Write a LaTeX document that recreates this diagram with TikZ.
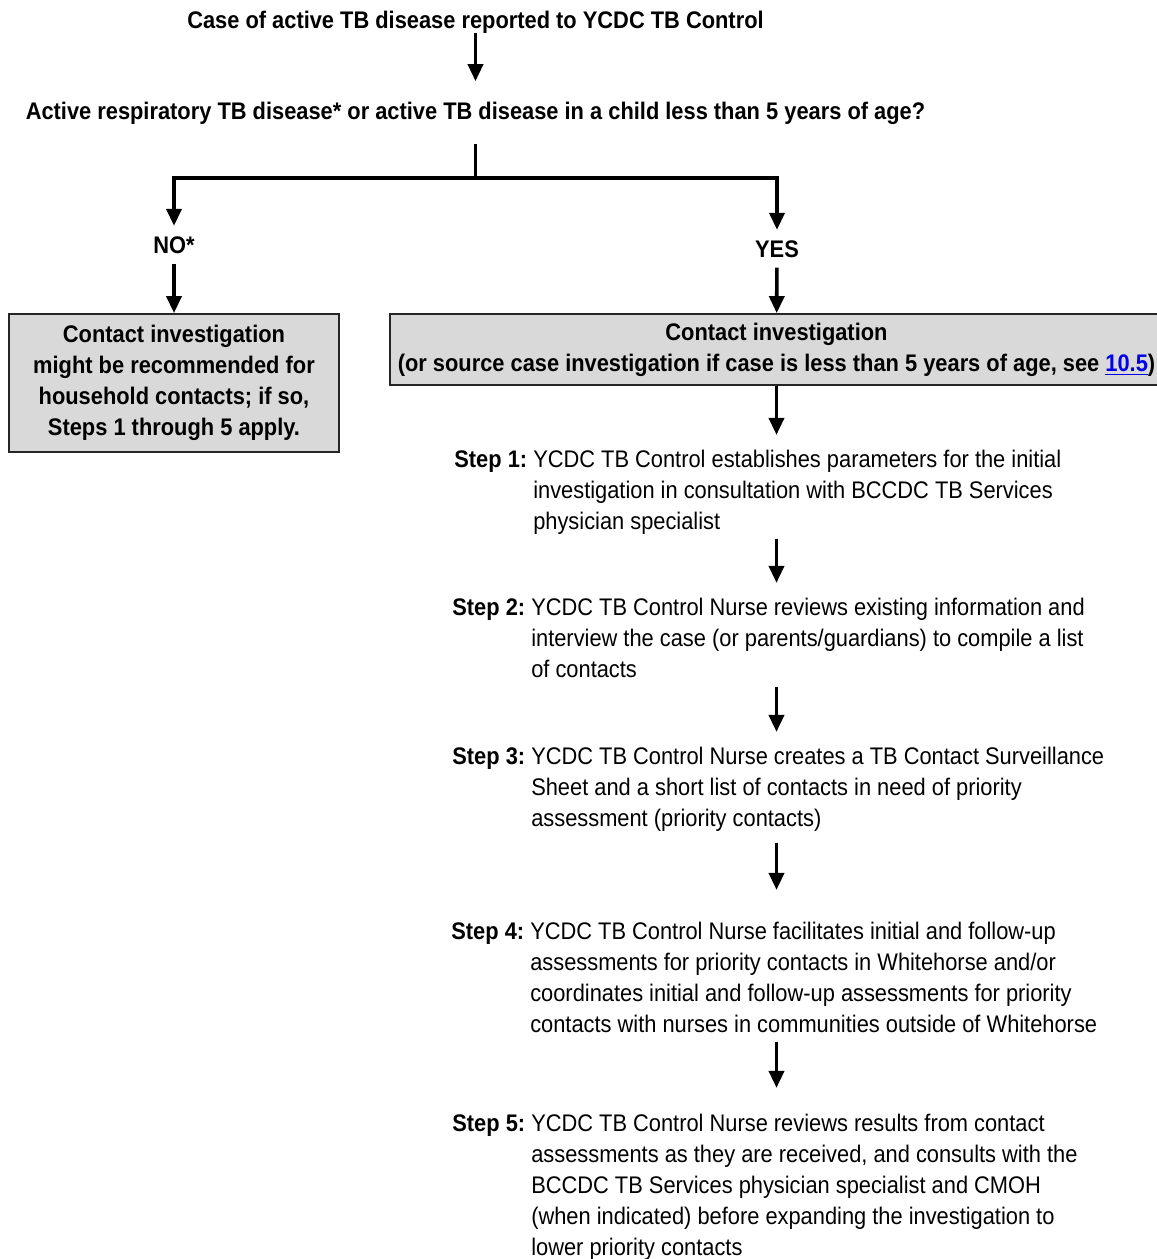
\documentclass[tikz,border=0pt]{standalone}
\usepackage{fontspec}
\setmainfont[FakeStretch=0.91]{Liberation Sans}
\usetikzlibrary{arrows.meta}
\definecolor{boxgray}{RGB}{217,217,217}
\definecolor{linkblue}{RGB}{0,0,235}

\begin{document}
\begin{tikzpicture}[x=0.5pt,y=-0.5pt,
    every node/.style={font=\fontsize{12}{15.5}\selectfont, inner sep=0pt},
    boldtxt/.style={font=\fontsize{12}{15.5}\selectfont\bfseries},
    arr/.style={line width=1.8pt, -{Triangle[width=7.5pt,length=8.5pt]}},
    conn/.style={line width=1.8pt, line join=miter},
    greybox/.style={draw=black!85, line width=0.9pt, fill=boxgray,
        font=\fontsize{12}{15.5}\selectfont\bfseries, align=center},
    steptext/.style={anchor=base west}]
    \useasboundingbox[fill=white] (0,0) rectangle (1157,1259);

    % question and branch
    \node[boldtxt, anchor=base] (title) at (475.5,28) {Case of active TB disease reported to YCDC TB Control};
    \node[boldtxt, anchor=base, inner ysep=10pt] (quest) at (475.5,119) {Active respiratory TB disease* or active TB disease in a child less than 5 years of age?};
    \coordinate (fork) at (475.5,178);
    \node[boldtxt, anchor=base, inner ysep=5pt] (no) at (174,253) {NO*};
    \node[boldtxt, anchor=base, inner ysep=5pt] (yes) at (777,257) {YES};

    \draw[arr] (title.south) -- (quest.north);
    \draw[conn] (quest.south) -- (fork);
    \draw[arr] (fork) -| (no.north);
    \draw[arr] (fork) -| (yes.north);

    % boxes
    \node[greybox, minimum width=165pt, minimum height=69pt] (nobox) at (174,383)
        {Contact investigation\\might be recommended for\\household contacts; if so,\\Steps 1 through 5 apply.};
    \node[greybox, minimum width=386.5pt, minimum height=35.5pt] (ycase) at (776.5,349.5)
        {Contact investigation\\(or source case investigation if case is less than 5 years of age, see \textcolor{linkblue}{\underline{10.5}})};

    \draw[arr] (no) -- (nobox);
    \draw[arr] (yes) -- (ycase);

    % steps
    \node[steptext] (step1) at (454,467) {\begin{tabular}[t]{@{}l@{\ }l@{}}
        \textbf{Step 1:} & YCDC TB Control establishes parameters for the initial\\
        & investigation in consultation with BCCDC TB Services\\
        & physician specialist\end{tabular}};
    \node[steptext] (step2) at (452,615) {\begin{tabular}[t]{@{}l@{\ }l@{}}
        \textbf{Step 2:} & YCDC TB Control Nurse reviews existing information and\\
        & interview the case (or parents/guardians) to compile a list\\
        & of contacts\end{tabular}};
    \node[steptext] (step3) at (452,764) {\begin{tabular}[t]{@{}l@{\ }l@{}}
        \textbf{Step 3:} & YCDC TB Control Nurse creates a TB Contact Surveillance\\
        & Sheet and a short list of contacts in need of priority\\
        & assessment (priority contacts)\end{tabular}};
    \node[steptext] (step4) at (451,939) {\begin{tabular}[t]{@{}l@{\ }l@{}}
        \textbf{Step 4:} & YCDC TB Control Nurse facilitates initial and follow-up\\
        & assessments for priority contacts in Whitehorse and/or\\
        & coordinates initial and follow-up assessments for priority\\
        & contacts with nurses in communities outside of Whitehorse\end{tabular}};
    \node[steptext] (step5) at (452,1131) {\begin{tabular}[t]{@{}l@{\ }l@{}}
        \textbf{Step 5:} & YCDC TB Control Nurse reviews results from contact\\
        & assessments as they are received, and consults with the\\
        & BCCDC TB Services physician specialist and CMOH\\
        & (when indicated) before expanding the investigation to\\
        & lower priority contacts\end{tabular}};

    \draw[arr, shorten >=5pt] (ycase.south) -- (step1.north -| ycase);
    \draw[arr, shorten >=5pt] (step1.south -| ycase) -- (step2.north -| ycase);
    \draw[arr, shorten >=5pt] (step2.south -| ycase) -- (step3.north -| ycase);
    \draw[arr, shorten <=3.5pt, shorten >=13.5pt] (step3.south -| ycase) -- (step4.north -| ycase);
    \draw[arr, shorten >=10.5pt] (step4.south -| ycase) -- (step5.north -| ycase);
\end{tikzpicture}
\end{document}
